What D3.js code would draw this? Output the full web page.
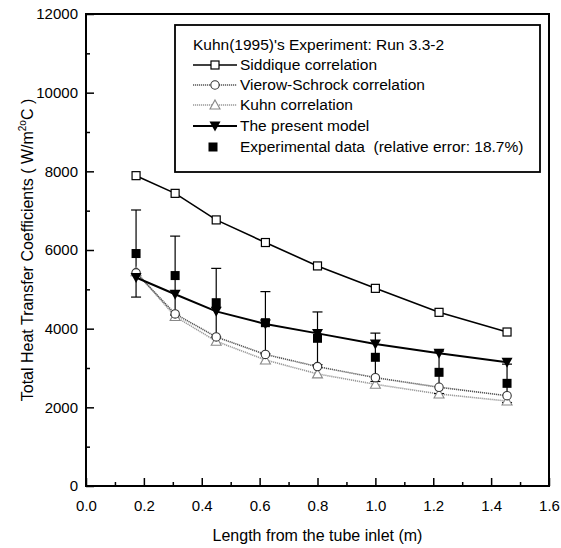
<!DOCTYPE html>
<html><head><meta charset="utf-8">
<script src="https://cdn.jsdelivr.net/npm/d3@7"></script>
<style>body{margin:0;background:#fff;} svg{display:block;}</style>
</head><body>
<svg id="c" width="561" height="548"></svg>
<script>
const lengths = [0.173, 0.308, 0.45, 0.62, 0.80, 1.00, 1.22, 1.455];
const siddique = [7890, 7440, 6765, 6190, 5595, 5025, 4415, 3915];
const vierow = [5420, 4375, 3790, 3345, 3035, 2755, 2510, 2296];
const kuhn = [5450, 4310, 3680, 3205, 2850, 2585, 2340, 2160];
const present = [5300, 4875, 4440, 4120, 3880, 3610, 3373, 3145];
const expData = [5910, 5350, 4660, 4152, 3755, 3272, 2890, 2610];
const expErr = [1107, 1003, 873, 790, 670, 615, 540, 488];
const xTicks = [0.0, 0.2, 0.4, 0.6, 0.8, 1.0, 1.2, 1.4, 1.6];
const yTicks = [0, 2000, 4000, 6000, 8000, 10000, 12000];
const legendTitle = "Kuhn(1995)'s Experiment: Run 3.3-2";
const legendLabels = ["Siddique correlation", "Vierow-Schrock correlation", "Kuhn correlation", "The present model", "Experimental data\u00a0 (relative error: 18.7%)"];

const svg = d3.select("#c");
const L = 86, R = 549, T = 14, B = 486;
const x = d3.scaleLinear().domain([0, 1.6]).range([L, R]);
const y = d3.scaleLinear().domain([0, 12000]).range([B, T]);
const font = "'Liberation Sans', Arial, Helvetica, sans-serif";
const fs = 15.5;

// frame
svg.append("rect").attr("x", L).attr("y", T).attr("width", R - L).attr("height", B - T)
  .attr("fill", "none").attr("stroke", "#000").attr("stroke-width", 2);

// axes with inward ticks
const xMinor = [0.1, 0.3, 0.5, 0.7, 0.9, 1.1, 1.3, 1.5];
svg.append("g").attr("transform", `translate(0,${B})`)
  .call(d3.axisBottom(x).tickValues(xTicks).tickSizeInner(-8).tickSizeOuter(0).tickPadding(14).tickFormat(d3.format(".1f")));
svg.append("g").attr("transform", `translate(0,${B})`)
  .call(d3.axisBottom(x).tickValues(xMinor).tickSizeInner(-4).tickSizeOuter(0).tickFormat(""));
const yMinor = [1000, 3000, 5000, 7000, 9000, 11000];
svg.append("g").attr("transform", `translate(${L},0)`)
  .call(d3.axisLeft(y).tickValues(yTicks).tickSizeInner(-8).tickSizeOuter(0).tickPadding(8).tickFormat(d3.format("d")));
svg.append("g").attr("transform", `translate(${L},0)`)
  .call(d3.axisLeft(y).tickValues(yMinor).tickSizeInner(-4).tickSizeOuter(0).tickFormat(""));
svg.selectAll(".domain").remove();
svg.selectAll(".tick line").attr("stroke", "#000").attr("stroke-width", 1.5);
svg.selectAll(".tick text").attr("font-family", font).attr("font-size", 15).attr("fill", "#000");

// axis titles
svg.append("text").attr("x", (L + R) / 2).attr("y", 541).attr("text-anchor", "middle")
  .attr("font-family", font).attr("font-size", 16).text("Length from the tube inlet (m)");
const yt = svg.append("text").attr("transform", `translate(33,${(T + B) / 2}) rotate(-90)`)
  .attr("text-anchor", "middle").attr("font-family", font).attr("font-size", 16);
yt.append("tspan").text("Total Heat Transfer Coefficients ( W/m");
yt.append("tspan").attr("font-size", 10).attr("dy", -7).text("2o");
yt.append("tspan").attr("dy", 7).text("C )");

const line = d3.line().x((d, i) => x(lengths[i])).y(d => y(d));

// series lines
svg.append("path").datum(kuhn).attr("d", line).attr("fill", "none").attr("stroke", "#999").attr("stroke-width", 1.6).attr("stroke-dasharray", "1.2,0.8");
svg.append("path").datum(vierow).attr("d", line).attr("fill", "none").attr("stroke", "#555").attr("stroke-width", 1.6).attr("stroke-dasharray", "1.2,0.8");
svg.append("path").datum(siddique).attr("d", line).attr("fill", "none").attr("stroke", "#000").attr("stroke-width", 1.6);
svg.append("path").datum(present).attr("d", line).attr("fill", "none").attr("stroke", "#000").attr("stroke-width", 2);

// marker helpers
function sqOpen(g, cx, cy) { g.append("rect").attr("x", cx - 4).attr("y", cy - 4).attr("width", 8).attr("height", 8).attr("fill", "#fff").attr("stroke", "#000").attr("stroke-width", 1.2); }
function circ(g, cx, cy) { g.append("circle").attr("cx", cx).attr("cy", cy).attr("r", 4.2).attr("fill", "#fff").attr("stroke", "#333").attr("stroke-width", 1.1); }
function triUp(g, cx, cy) { g.append("path").attr("d", `M${cx},${cy - 5}L${cx + 5},${cy + 4}L${cx - 5},${cy + 4}Z`).attr("fill", "#fff").attr("stroke", "#888").attr("stroke-width", 1.1); }
function triDown(g, cx, cy) { g.append("path").attr("d", `M${cx - 5.5},${cy - 4.5}L${cx + 5.5},${cy - 4.5}L${cx},${cy + 5.5}Z`).attr("fill", "#000"); }
function sqFill(g, cx, cy) { g.append("rect").attr("x", cx - 4.5).attr("y", cy - 4.5).attr("width", 9).attr("height", 9).attr("fill", "#000"); }

const gm = svg.append("g");
// error bars
lengths.forEach((l, i) => {
  const cx = x(l), y1 = y(expData[i] + expErr[i]), y2 = y(expData[i] - expErr[i]);
  gm.append("line").attr("x1", cx).attr("x2", cx).attr("y1", y1).attr("y2", y2).attr("stroke", "#000").attr("stroke-width", 1.2);
  gm.append("line").attr("x1", cx - 5).attr("x2", cx + 5).attr("y1", y1).attr("y2", y1).attr("stroke", "#000").attr("stroke-width", 1.2);
  gm.append("line").attr("x1", cx - 5).attr("x2", cx + 5).attr("y1", y2).attr("y2", y2).attr("stroke", "#000").attr("stroke-width", 1.2);
});
lengths.forEach((l, i) => triUp(gm, x(l), y(kuhn[i])));
lengths.forEach((l, i) => circ(gm, x(l), y(vierow[i])));
lengths.forEach((l, i) => sqOpen(gm, x(l), y(siddique[i])));
lengths.forEach((l, i) => triDown(gm, x(l), y(present[i])));
lengths.forEach((l, i) => sqFill(gm, x(l), y(expData[i])));

// legend
const lg = svg.append("g");
lg.append("rect").attr("x", 175).attr("y", 25).attr("width", 365).attr("height", 147).attr("fill", "#fff").attr("stroke", "#000").attr("stroke-width", 1.8);
lg.append("text").attr("x", 193).attr("y", 50).attr("font-family", font).attr("font-size", fs).text(legendTitle);
const rowsY = [70, 90, 110, 131, 152];
const lineStyles = [
  {s: "#000", w: 1.6, d: null},
  {s: "#555", w: 1.6, d: "1.2,0.8"},
  {s: "#999", w: 1.6, d: "1.2,0.8"},
  {s: "#000", w: 2, d: null}
];
legendLabels.forEach((lab, i) => {
  const cy = rowsY[i] - 5;
  if (i < 4) {
    const ls = lineStyles[i];
    const ln = lg.append("line").attr("x1", 193).attr("x2", 237).attr("y1", cy).attr("y2", cy).attr("stroke", ls.s).attr("stroke-width", ls.w);
    if (ls.d) ln.attr("stroke-dasharray", ls.d);
  }
  [sqOpen, circ, triUp, triDown, sqFill][i](lg, i === 4 ? 213 : 215, cy);
  lg.append("text").attr("x", 240).attr("y", rowsY[i]).attr("font-family", font).attr("font-size", fs).text(lab);
});
</script>
</body></html>
